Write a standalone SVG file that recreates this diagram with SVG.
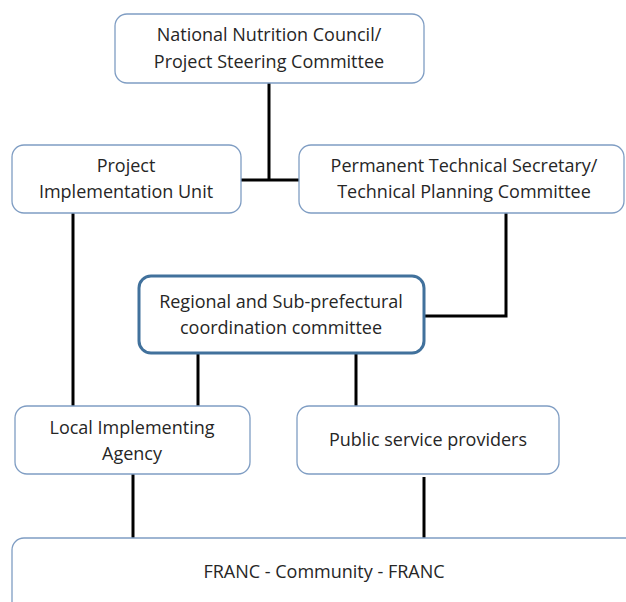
<svg xmlns="http://www.w3.org/2000/svg" width="626" height="602" viewBox="0 0 626 602">
<style>
.box{fill:#fff;stroke:#7f9dc3;stroke-width:1.3}
.main{fill:#fff;stroke:#41719c;stroke-width:3}
.t{font-family:"Open Sans","Liberation Sans",Arial,sans-serif;font-size:18px;fill:#262626;text-anchor:middle}
.c{stroke:#000;stroke-width:3;fill:none}
</style>
<rect width="626" height="602" fill="#fff"/>
<g id="connectors">
<line class="c" x1="269" y1="83" x2="269" y2="180"/>
<line class="c" x1="241" y1="180" x2="299" y2="180"/>
<polyline class="c" points="506,213 506,316 424,316"/>
<line class="c" x1="73" y1="213" x2="73" y2="406"/>
<line class="c" x1="198" y1="353" x2="198" y2="406"/>
<line class="c" x1="356" y1="353" x2="356" y2="406"/>
<line class="c" x1="133" y1="474" x2="133" y2="538"/>
<line class="c" x1="424" y1="477" x2="424" y2="538"/>
</g>
<g id="nnc">
<rect class="box" x="115" y="14" width="309" height="69" rx="12"/>
<text class="t" x="269" y="41">National Nutrition Council/</text>
<text class="t" x="269" y="68">Project Steering Committee</text>
</g>
<g id="piu">
<rect class="box" x="12" y="145" width="229" height="68" rx="12"/>
<text class="t" x="126" y="172">Project</text>
<text class="t" x="126" y="198">Implementation Unit</text>
</g>
<g id="pts">
<rect class="box" x="299" y="145" width="325" height="68" rx="12"/>
<text class="t" x="464" y="172">Permanent Technical Secretary/</text>
<text class="t" x="464" y="198">Technical Planning Committee</text>
</g>
<g id="regional">
<rect class="main" x="139" y="276" width="285" height="77" rx="12"/>
<text class="t" x="281" y="308">Regional and Sub-prefectural</text>
<text class="t" x="281" y="334">coordination committee</text>
</g>
<g id="lia">
<rect class="box" x="15" y="406" width="235" height="68" rx="12"/>
<text class="t" x="132" y="434">Local Implementing</text>
<text class="t" x="132" y="460">Agency</text>
</g>
<g id="psp">
<rect class="box" x="297" y="406" width="262" height="68" rx="12"/>
<text class="t" x="428" y="446">Public service providers</text>
</g>
<g id="franc">
<rect class="box" x="12" y="538" width="630" height="80" rx="12"/>
<text class="t" x="324" y="578">FRANC - Community - FRANC</text>
</g>
</svg>
